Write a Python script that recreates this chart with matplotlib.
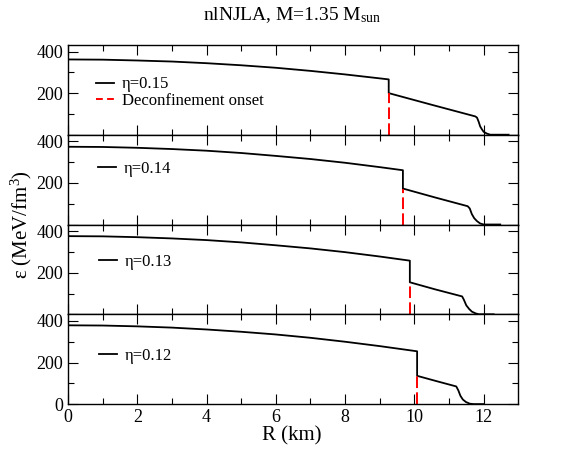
import matplotlib
matplotlib.use("Agg")
from matplotlib import pyplot as plt
from matplotlib.lines import Line2D

plt.rcParams['font.family'] = ['Liberation Serif', 'DejaVu Serif']
plt.rcParams['mathtext.fontset'] = 'custom'
plt.rcParams['mathtext.rm'] = 'Liberation Serif'
plt.rcParams['mathtext.it'] = 'Liberation Serif:italic'

# eta values, top panel to bottom panel
etas = [0.15, 0.14, 0.13, 0.12]

# energy density profiles (R in km, eps in MeV/fm^3)
r_015 = [0, 1, 2, 3, 4, 5, 6, 7, 8, 9, 9.26, 9.26, 10.5, 11.76, 11.81, 11.86,
         11.90, 11.95, 12.0, 12.1, 12.19, 12.72]
e_015 = [362, 361, 357, 352, 344, 334, 322, 307, 290, 271, 266, 200, 144, 88,
         82, 61, 40, 26, 14, 5, 0, 0]

r_014 = [0, 1, 2, 3, 4, 5, 6, 7, 8, 9, 9.67, 9.67, 10.6, 11.54, 11.6, 11.66,
         11.73, 11.81, 11.9, 12.0, 12.48]
e_014 = [374, 373, 369, 363, 355, 344, 330, 315, 297, 276, 261, 173, 130, 88,
         77, 50, 30, 16, 5, 0, 0]

r_013 = [0, 1, 2, 3, 4, 5, 6, 7, 8, 9, 9.87, 9.87, 10.6, 11.38, 11.43, 11.5,
         11.58, 11.66, 11.76, 11.86, 12.29]
e_013 = [376, 375, 371, 365, 357, 346, 332, 317, 299, 278, 258, 154, 120, 86,
         70, 43, 26, 13, 5, 0, 0]

r_012 = [0, 1, 2, 3, 4, 5, 6, 7, 8, 9, 10.08, 10.08, 10.65, 11.21, 11.27, 11.33,
         11.4, 11.49, 11.6, 11.71, 12.0]
e_012 = [379, 378, 374, 368, 359, 348, 335, 319, 300, 279, 254, 136, 110, 85,
         66, 40, 22, 10, 2, 0, 0]

# deconfinement onset radius and eps right after the jump
onset_r = [9.26, 9.67, 9.87, 10.08]
onset_e = [200, 173, 154, 136]

radii = [r_015, r_014, r_013, r_012]
energies = [e_015, e_014, e_013, e_012]

# legend centre (axes coords) per panel
leg_pos = [(0.062, 0.466), (0.067, 0.618), (0.069, 0.584), (0.069, 0.535)]

fig, axs = plt.subplots(4, 1, sharex=True, figsize=(5.81, 4.49), dpi=100)
fig.subplots_adjust(left=0.117, right=0.892, bottom=0.1, top=0.9, hspace=0)

for i, ax in enumerate(axs):
    ax.plot(radii[i], energies[i], color='black', lw=1.3)
    ax.plot([onset_r[i], onset_r[i]], [0, onset_e[i]], color='red', lw=1.4,
            dashes=(6, 2.2))
    ax.set_xlim(0, 13)
    ax.set_ylim(0, 432)
    ax.set_yticks([0, 200, 400])
    ax.set_yticks([100, 300], minor=True)
    ax.set_xticks(range(0, 13, 2))
    ax.set_xticks(range(1, 13, 2), minor=True)
    ax.tick_params(which='both', direction='in', top=True, right=True,
                   labelsize=13, width=0.8)
    ax.tick_params(which='major', length=7)
    ax.tick_params(which='minor', length=4)
    for sp in ax.spines.values():
        sp.set_linewidth(1.0)
    if i < 3:
        ax.set_yticklabels(['', '200', '400'])

    handles = [Line2D([], [], color='black', lw=1.3)]
    labels = ['η=%.2f' % etas[i]]
    if i == 0:
        handles.append(Line2D([], [], color='red', lw=1.4, dashes=(3.5, 2.2)))
        labels.append('Deconfinement onset')
    ax.legend(handles, labels, loc='center left', bbox_to_anchor=leg_pos[i],
              frameon=False, fontsize=12, handlelength=1.1, handletextpad=0.45,
              borderpad=0, borderaxespad=0, labelspacing=0.05)

fig.text(0.503, 0.966, r'nlNJLA, M=1.35 M$_{\rm sun}$', ha='center',
         va='center', fontsize=14)
fig.text(0.503, 0.029, 'R (km)', ha='center', va='center', fontsize=15)
fig.text(0.036, 0.5, 'ε (MeV/fm$^3$)', ha='center', va='center',
         rotation=90, fontsize=15)

fig.savefig('out.png', dpi=100)
